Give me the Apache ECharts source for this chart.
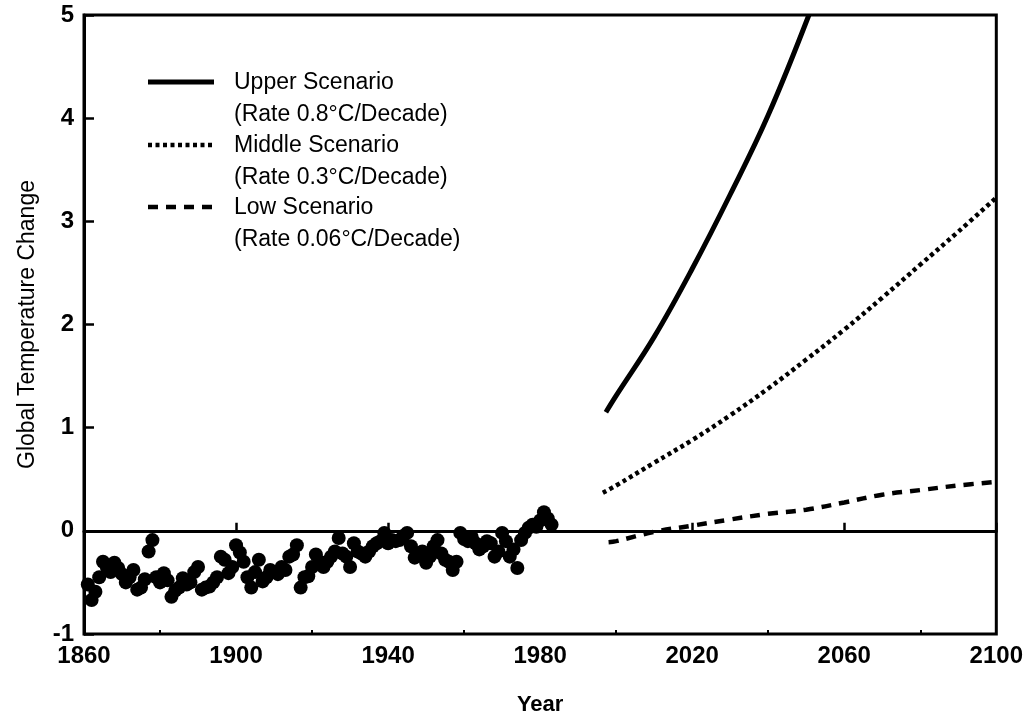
<!DOCTYPE html>
<html><head><meta charset="utf-8">
<script src="https://cdn.jsdelivr.net/npm/echarts@6/dist/echarts.min.js"></script>
<style>html,body{margin:0;padding:0;background:#fff}#c{width:1026px;height:721px}</style>
</head><body><div id="c"></div>
<script>
// Observed global temperature change (annual)
const obsYears = [
 1861,1862,1863,1864,1865,1866,1867,1868,1869,1870,
 1871,1872,1873,1874,1875,1876,1877,1878,1879,1880,
 1881,1882,1883,1884,1885,1886,1887,1888,1889,1890,
 1891,1892,1893,1894,1895,1896,1897,1898,1899,1900,
 1901,1902,1903,1904,1905,1906,1907,1908,1909,1910,
 1911,1912,1913,1914,1915,1916,1917,1918,1919,1920,
 1921,1922,1923,1924,1925,1926,1927,1928,1929,1930,
 1931,1932,1933,1934,1935,1936,1937,1938,1939,1940,
 1941,1942,1943,1944,1945,1946,1947,1948,1949,1950,
 1951,1952,1953,1954,1955,1956,1957,1958,1959,1960,
 1961,1962,1963,1964,1965,1966,1967,1968,1969,1970,
 1971,1972,1973,1974,1975,1976,1977,1978,1979,1980,
 1981,1982,1983];
const obsTemps = [
 -0.52,-0.67,-0.59,-0.45,-0.30,-0.35,-0.40,-0.31,-0.36,-0.42,
 -0.50,-0.45,-0.38,-0.57,-0.55,-0.47,-0.20,-0.09,-0.45,-0.50,
 -0.41,-0.48,-0.64,-0.58,-0.55,-0.46,-0.52,-0.50,-0.40,-0.35,
 -0.57,-0.55,-0.54,-0.50,-0.45,-0.25,-0.28,-0.41,-0.35,-0.14,
 -0.21,-0.30,-0.45,-0.55,-0.40,-0.28,-0.49,-0.45,-0.38,-0.40,
 -0.42,-0.35,-0.38,-0.25,-0.23,-0.14,-0.55,-0.45,-0.44,-0.35,
 -0.23,-0.30,-0.35,-0.30,-0.25,-0.20,-0.07,-0.22,-0.25,-0.35,
 -0.12,-0.20,-0.22,-0.25,-0.20,-0.15,-0.12,-0.10,-0.02,-0.12,
 -0.09,-0.10,-0.09,-0.05,-0.02,-0.15,-0.26,-0.22,-0.20,-0.31,
 -0.25,-0.15,-0.09,-0.22,-0.28,-0.30,-0.38,-0.30,-0.02,-0.08,
 -0.10,-0.06,-0.12,-0.18,-0.15,-0.10,-0.12,-0.25,-0.20,-0.02,
 -0.10,-0.25,-0.18,-0.36,-0.09,-0.02,0.03,0.06,0.04,0.10,
 0.18,0.12,0.06];

// Scenarios
const upperYears  = [1997.3, 2000, 2010, 2020, 2030, 2040, 2050.7];
const upperTemps  = [1.15, 1.31, 1.88, 2.54, 3.26, 4.03, 5.0];
const middleYears = [1996.5, 2000, 2010, 2020, 2030, 2040, 2050, 2060, 2070, 2080, 2090, 2100];
const middleTemps = [0.37, 0.44, 0.66, 0.88, 1.12, 1.38, 1.66, 1.95, 2.26, 2.58, 2.90, 3.23];
const lowYears    = [1998, 2000, 2010, 2020, 2030, 2040, 2050, 2060, 2070, 2080, 2090, 2100];
const lowTemps    = [-0.11, -0.10, -0.01, 0.05, 0.11, 0.165, 0.205, 0.275, 0.35, 0.395, 0.44, 0.475];

const xMajorTicks = [1860, 1900, 1940, 1980, 2020, 2060, 2100];
const xMinorTicks = [1880, 1920, 1960, 2000, 2040, 2080];
const yTicks = [-1, 0, 1, 2, 3, 4, 5];

const legendNames = ['Upper Scenario', 'Middle Scenario', 'Low Scenario'];
const legendRates = ['(Rate 0.8°C/Decade)', '(Rate 0.3°C/Decade)', '(Rate 0.06°C/Decade)'];

const FONT = '"Liberation Sans", Arial, Helvetica, sans-serif';
const zip = (a, b) => a.map((v, i) => [v, b[i]]);

const middleDash = [4, 3.5];
const lowDash = [10, 8];

const chart = echarts.init(document.getElementById('c'), null, {renderer: 'canvas'});

const legendY = [82, 145, 207];
const legendStyles = [
  {lineWidth: 5, lineDash: null},
  {lineWidth: 4.5, lineDash: middleDash},
  {lineWidth: 4.5, lineDash: lowDash}
];
const graphics = [];
legendNames.forEach((n, i) => {
  graphics.push({
    type: 'line', silent: true,
    shape: {x1: 148, y1: legendY[i], x2: 214, y2: legendY[i]},
    style: {stroke: '#000', lineWidth: legendStyles[i].lineWidth, lineDash: legendStyles[i].lineDash}
  });
  graphics.push({
    type: 'text', silent: true, left: 234, top: legendY[i] - 15,
    style: {text: n + '\n' + legendRates[i], fill: '#000', font: '23px ' + FONT, lineHeight: 32}
  });
});

chart.setOption({
  backgroundColor: '#fff',
  animation: false,
  grid: {left: 84, right: 25, top: 15, bottom: 87, show: true, borderColor: '#000', borderWidth: 3},
  xAxis: [{
    type: 'value', min: 1860, max: 2100, position: 'bottom',
    name: 'Year', nameLocation: 'middle', nameGap: 60,
    nameTextStyle: {fontFamily: FONT, fontSize: 22, fontWeight: 'bold', color: '#000'},
    axisLine: {show: true, lineStyle: {color: '#000', width: 3}},
    axisTick: {show: true, inside: true, length: 8, lineStyle: {color: '#000', width: 2.5}, customValues: xMajorTicks},
    axisLabel: {show: true, margin: 10, fontFamily: FONT, fontSize: 24, fontWeight: 'bold', color: '#000',
      customValues: xMajorTicks, formatter: v => String(v)},
    splitLine: {show: false}
  }, {
    type: 'value', min: 1860, max: 2100, position: 'bottom',
    axisLine: {show: false},
    axisTick: {show: true, inside: true, length: 4, lineStyle: {color: '#000', width: 2}, customValues: xMinorTicks},
    axisLabel: {show: false},
    splitLine: {show: false}
  }],
  yAxis: {
    type: 'value', min: -1, max: 5, interval: 1,
    name: 'Global Temperature Change', nameLocation: 'middle', nameGap: 45, nameRotate: 90,
    nameTextStyle: {fontFamily: FONT, fontSize: 23, color: '#000'},
    axisLine: {show: true, lineStyle: {color: '#000', width: 3}},
    axisTick: {show: true, inside: true, length: 10, lineStyle: {color: '#000', width: 2.5}, customValues: yTicks},
    axisLabel: {show: true, margin: 10, fontFamily: FONT, fontSize: 24, fontWeight: 'bold', color: '#000',
      customValues: yTicks, formatter: v => String(v)},
    splitLine: {show: false}
  },
  series: [{
    type: 'scatter', name: 'Observed', xAxisIndex: 0,
    data: zip(obsYears, obsTemps),
    symbol: 'circle', symbolSize: 14,
    itemStyle: {color: '#000', opacity: 1},
    markLine: {
      silent: true, symbol: 'none', label: {show: false},
      lineStyle: {color: '#000', width: 2.5, type: 'solid'},
      data: [{yAxis: 0}]
    }
  }, {
    type: 'line', name: 'Upper Scenario', xAxisIndex: 0,
    data: zip(upperYears, upperTemps), smooth: 0.4, showSymbol: false,
    lineStyle: {color: '#000', width: 5}
  }, {
    type: 'line', name: 'Middle Scenario', xAxisIndex: 0,
    data: zip(middleYears, middleTemps), smooth: 0.4, showSymbol: false,
    lineStyle: {color: '#000', width: 4.5, type: middleDash}
  }, {
    type: 'line', name: 'Low Scenario', xAxisIndex: 0,
    data: zip(lowYears, lowTemps), smooth: 0.4, showSymbol: false,
    lineStyle: {color: '#000', width: 4.5, type: lowDash}
  }],
  graphic: graphics
});
</script>
</body></html>
